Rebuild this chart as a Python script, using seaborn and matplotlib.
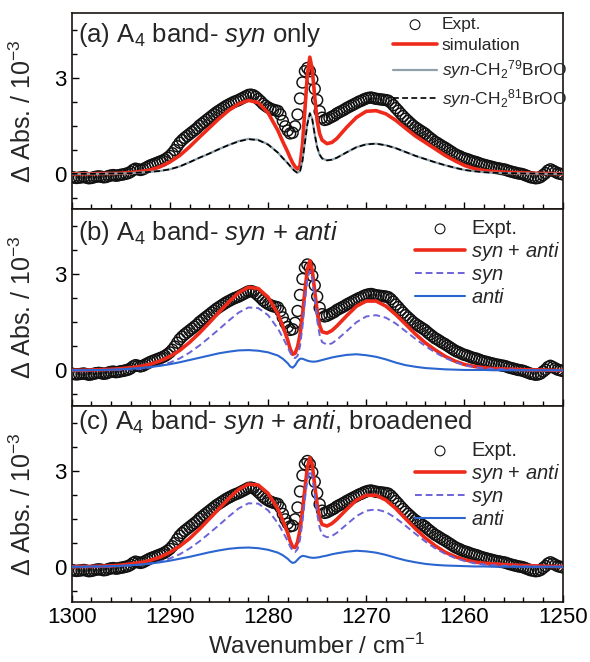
import numpy as np
import matplotlib
matplotlib.use('Agg')
import matplotlib.pyplot as plt
from matplotlib.ticker import MultipleLocator
import seaborn as sns

# Wavenumber grid of the simulated curves (cm-1), finer around the Q branch
wn = [1300, 1299, 1298, 1297, 1296, 1295, 1294, 1293, 1292, 1291, 1290, 1289,
      1288, 1287, 1286, 1285, 1284, 1283, 1282, 1281, 1280, 1279, 1278.5, 1278,
      1277.75, 1277.5, 1277.25, 1277, 1276.75, 1276.5, 1276.25, 1276, 1275.75,
      1275.5, 1275.25, 1275, 1274.75, 1274.5, 1274, 1273.5, 1273, 1272, 1271,
      1270, 1269, 1268, 1267, 1266, 1265, 1264, 1263, 1262, 1261, 1260, 1259,
      1258, 1257, 1256, 1255, 1254, 1253, 1252, 1251, 1250]

# Experimental spectrum, 0.25 cm-1 steps from 1300 down to 1250
expt = [-0.10, -0.12, -0.13, -0.12, -0.11, -0.10, -0.12, -0.14,
        -0.13, -0.11, -0.09, -0.08, -0.09, -0.11, -0.10, -0.07,
        -0.05, -0.04, -0.06, -0.05, -0.03, -0.02, 0.00, 0.02,
        0.06, 0.12, 0.16, 0.14, 0.12, 0.14, 0.18, 0.22,
        0.26, 0.29, 0.32, 0.35, 0.38, 0.41, 0.45, 0.50,
        0.56, 0.64, 0.74, 0.86, 0.97, 1.05, 1.12, 1.18,
        1.24, 1.30, 1.36, 1.42, 1.50, 1.56, 1.62, 1.68,
        1.74, 1.80, 1.86, 1.92, 1.97, 2.02, 2.07, 2.12,
        2.16, 2.20, 2.24, 2.27, 2.30, 2.34, 2.38, 2.42,
        2.46, 2.47, 2.45, 2.40, 2.33, 2.26, 2.18, 2.12,
        2.07, 2.03, 2.00, 1.98, 1.96, 1.85, 1.65, 1.48,
        1.35, 1.26, 1.28, 1.48, 1.85, 2.35, 2.85, 3.20,
        3.30, 3.20, 2.95, 2.65, 2.30, 1.95, 1.75, 1.68,
        1.70, 1.74, 1.78, 1.82, 1.88, 1.92, 1.96, 2.00,
        2.05, 2.09, 2.13, 2.17, 2.21, 2.25, 2.28, 2.32,
        2.35, 2.37, 2.38, 2.36, 2.34, 2.33, 2.32, 2.31,
        2.30, 2.28, 2.22, 2.14, 2.05, 1.97, 1.88, 1.80,
        1.72, 1.65, 1.58, 1.51, 1.45, 1.40, 1.35, 1.30,
        1.25, 1.18, 1.12, 1.06, 1.00, 0.96, 0.91, 0.86,
        0.82, 0.77, 0.72, 0.67, 0.62, 0.58, 0.55, 0.51,
        0.48, 0.46, 0.43, 0.40, 0.38, 0.36, 0.33, 0.30,
        0.28, 0.26, 0.24, 0.22, 0.20, 0.18, 0.17, 0.15,
        0.14, 0.12, 0.09, 0.07, 0.05, 0.03, 0.01, 0.00,
        -0.02, -0.05, -0.08, -0.11, -0.12, -0.14, -0.13, -0.10,
        -0.04, 0.02, 0.10, 0.14, 0.10, 0.06, 0.02, 0.00,
        -0.02]
wn_expt = np.linspace(1300, 1250, len(expt))

# (a) syn only
sim_a = [0.00, 0.00, 0.00, 0.01, 0.01, 0.02, 0.04, 0.07, 0.12, 0.22, 0.37, 0.57,
         0.84, 1.14, 1.43, 1.72, 1.98, 2.18, 2.29, 2.22, 1.90, 1.35, 1.00, 0.68,
         0.50, 0.34, 0.22, 0.15, 0.25, 0.90, 2.00, 3.10, 3.64,
         3.25, 2.40, 1.65, 1.25, 1.05, 0.94, 0.98, 1.10, 1.45, 1.76,
         1.95, 1.97, 1.87, 1.67, 1.42, 1.18, 0.98, 0.78, 0.58, 0.41, 0.26, 0.16,
         0.10, 0.07, 0.05, 0.04, 0.03, 0.02, 0.01, 0.01, 0.00]
syn79_a = [0.00, 0.00, 0.00, 0.00, 0.01, 0.01, 0.02, 0.04, 0.06, 0.09, 0.14, 0.23,
           0.36, 0.50, 0.63, 0.77, 0.90, 1.02, 1.09, 1.06, 0.92, 0.66, 0.49, 0.33,
           0.24, 0.15, 0.08, 0.03, 0.08, 0.42, 1.00, 1.58, 1.90,
           1.70, 1.22, 0.82, 0.59, 0.48, 0.42, 0.44, 0.50, 0.67, 0.83,
           0.92, 0.94, 0.89, 0.80, 0.68, 0.56, 0.46, 0.36, 0.27, 0.19, 0.12, 0.08,
           0.05, 0.03, 0.02, 0.02, 0.01, 0.01, 0.00, 0.00, 0.00]
syn81_a = [0.00, 0.00, 0.00, 0.00, 0.01, 0.01, 0.02, 0.04, 0.06, 0.09, 0.14, 0.23,
           0.36, 0.50, 0.63, 0.77, 0.90, 1.01, 1.08, 1.05, 0.91, 0.66, 0.49, 0.33,
           0.24, 0.15, 0.08, 0.03, 0.07, 0.40, 0.97, 1.55, 1.88,
           1.70, 1.23, 0.83, 0.60, 0.48, 0.42, 0.44, 0.50, 0.67, 0.83,
           0.92, 0.94, 0.89, 0.80, 0.68, 0.56, 0.46, 0.36, 0.27, 0.19, 0.12, 0.08,
           0.05, 0.03, 0.02, 0.02, 0.01, 0.01, 0.00, 0.00, 0.00]

# (b) syn + anti
sum_b = [0.00, 0.00, 0.01, 0.02, 0.03, 0.05, 0.08, 0.12, 0.19, 0.29, 0.43, 0.62,
         0.87, 1.16, 1.48, 1.81, 2.13, 2.42, 2.59, 2.55, 2.28, 1.76, 1.38, 0.94,
         0.67, 0.50, 0.53, 0.73, 1.11, 1.71, 2.48, 3.15, 3.42,
         3.12, 2.47, 1.83, 1.40, 1.20, 1.16, 1.24, 1.38, 1.70, 2.00,
         2.16, 2.16, 2.00, 1.74, 1.44, 1.13, 0.86, 0.64, 0.44, 0.29, 0.18, 0.12,
         0.08, 0.05, 0.04, 0.03, 0.02, 0.01, 0.01, 0.00, 0.00]
syn_b = [0.00, 0.00, 0.00, 0.01, 0.01, 0.02, 0.03, 0.05, 0.09, 0.15, 0.24, 0.37,
         0.55, 0.77, 1.02, 1.28, 1.55, 1.80, 1.96, 1.94, 1.72, 1.30, 1.02, 0.72,
         0.55, 0.42, 0.38, 0.45, 0.75, 1.35, 2.15, 2.85, 3.10,
         2.85, 2.20, 1.55, 1.10, 0.88, 0.80, 0.84, 0.95, 1.22, 1.50,
         1.68, 1.72, 1.64, 1.46, 1.22, 0.98, 0.76, 0.56, 0.39, 0.26, 0.16, 0.10,
         0.06, 0.04, 0.03, 0.02, 0.01, 0.01, 0.00, 0.00, 0.00]
anti_b = [0.00, 0.00, 0.01, 0.01, 0.02, 0.03, 0.05, 0.07, 0.10, 0.14, 0.19, 0.25,
          0.32, 0.39, 0.46, 0.53, 0.58, 0.62, 0.63, 0.61, 0.56, 0.46, 0.36, 0.22,
          0.12, 0.08, 0.15, 0.28, 0.36, 0.36, 0.33, 0.30, 0.28,
          0.27, 0.27, 0.28, 0.30, 0.32, 0.36, 0.40, 0.43, 0.48, 0.50,
          0.47, 0.42, 0.34, 0.24, 0.16, 0.11, 0.07, 0.05, 0.03, 0.02, 0.01, 0.01,
          0.01, 0.00, 0.00, 0.00, 0.00, 0.00, 0.00, 0.00, 0.00]

# (c) syn + anti, broadened
sum_c = [0.00, 0.01, 0.01, 0.02, 0.03, 0.05, 0.09, 0.13, 0.20, 0.30, 0.45, 0.64,
         0.88, 1.17, 1.49, 1.81, 2.13, 2.41, 2.58, 2.55, 2.29, 1.80, 1.45, 1.05,
         0.80, 0.62, 0.60, 0.77, 1.15, 1.74, 2.43, 3.10, 3.40,
         3.18, 2.53, 1.94, 1.52, 1.32, 1.27, 1.35, 1.48, 1.79, 2.08,
         2.23, 2.23, 2.08, 1.82, 1.50, 1.19, 0.90, 0.66, 0.46, 0.32, 0.22, 0.15,
         0.11, 0.09, 0.07, 0.05, 0.04, 0.03, 0.02, 0.01, 0.01]
syn_c = [0.00, 0.00, 0.00, 0.01, 0.01, 0.02, 0.04, 0.06, 0.10, 0.16, 0.26, 0.39,
         0.57, 0.79, 1.04, 1.30, 1.57, 1.82, 1.98, 1.97, 1.76, 1.36, 1.09, 0.80,
         0.63, 0.50, 0.46, 0.55, 0.85, 1.40, 2.10, 2.72, 3.00,
         2.82, 2.25, 1.65, 1.22, 1.00, 0.92, 0.96, 1.06, 1.32, 1.58,
         1.75, 1.79, 1.71, 1.52, 1.28, 1.03, 0.79, 0.58, 0.41, 0.28, 0.18, 0.11,
         0.07, 0.05, 0.03, 0.02, 0.01, 0.01, 0.00, 0.00, 0.00]
anti_c = [0.00, 0.00, 0.01, 0.01, 0.02, 0.03, 0.05, 0.07, 0.10, 0.14, 0.19, 0.25,
          0.31, 0.38, 0.45, 0.51, 0.56, 0.59, 0.60, 0.58, 0.53, 0.44, 0.36, 0.25,
          0.17, 0.12, 0.14, 0.22, 0.30, 0.34, 0.33, 0.31, 0.29,
          0.28, 0.28, 0.29, 0.30, 0.32, 0.35, 0.39, 0.42, 0.47, 0.50,
          0.48, 0.44, 0.37, 0.28, 0.20, 0.14, 0.09, 0.06, 0.04, 0.03, 0.02, 0.01,
          0.01, 0.00, 0.00, 0.00, 0.00, 0.00, 0.00, 0.00, 0.00]

titles = [r'(a) A$_4$ band- $\it{syn}$ only',
          r'(b) A$_4$ band- $\it{syn}$ + $\it{anti}$',
          r'(c) A$_4$ band- $\it{syn}$ + $\it{anti}$, broadened']
title_y = [0.85, 0.845, 0.88]

# Style
sns.set_theme(style='ticks')
plt.rcParams['font.family'] = ['Liberation Sans', 'DejaVu Sans']
plt.rcParams['mathtext.fontset'] = 'custom'
plt.rcParams['mathtext.rm'] = 'Liberation Sans'
plt.rcParams['mathtext.it'] = 'Liberation Sans:italic'
plt.rcParams['mathtext.bf'] = 'Liberation Sans:bold'

RED = '#ee2a1b'
GREY = '#8fa1ab'
PURPLE = '#6b63d6'
BLUE = '#2b66d0'

fig, axes = plt.subplots(3, 1, figsize=(5.9, 6.62), dpi=100, sharex=True)
fig.subplots_adjust(left=0.1215, right=0.9537, top=0.981, bottom=0.0906, hspace=0)

def draw_expt(ax):
    sns.scatterplot(x=wn_expt, y=expt, ax=ax, marker='o', s=62,
                    facecolor='none', edgecolor='#111111', linewidth=1.05,
                    label='Expt.', legend=False, zorder=2)

def draw_line(ax, y, color, lw, ls, label):
    sns.lineplot(x=wn, y=y, ax=ax, color=color, linewidth=lw, linestyle=ls,
                 label=label, sort=False, estimator=None, legend=False, zorder=3)

# Panel a
ax = axes[0]
draw_expt(ax)
draw_line(ax, sim_a, RED, 2.6, '-', 'simulation')
draw_line(ax, syn79_a, GREY, 1.6, '-', r'$\it{syn}$-CH$_2$$^{79}$BrOO')
draw_line(ax, syn81_a, 'black', 1.2, (0, (3.5, 2)), r'$\it{syn}$-CH$_2$$^{81}$BrOO')

# Panel b
ax = axes[1]
draw_expt(ax)
draw_line(ax, sum_b, RED, 2.6, '-', r'$\it{syn}$ + $\it{anti}$')
draw_line(ax, syn_b, PURPLE, 1.4, (0, (3.5, 2)), r'$\it{syn}$')
draw_line(ax, anti_b, BLUE, 1.5, '-', r'$\it{anti}$')

# Panel c
ax = axes[2]
draw_expt(ax)
draw_line(ax, sum_c, RED, 2.6, '-', r'$\it{syn}$ + $\it{anti}$')
draw_line(ax, syn_c, PURPLE, 1.4, (0, (3.5, 2)), r'$\it{syn}$')
draw_line(ax, anti_c, BLUE, 1.5, '-', r'$\it{anti}$')

legend_anchor = [(1.03, 1.03), (1.02, 1.01), (1.02, 0.88)]
legend_size = [12.5, 14.5, 14.5]
legend_space = [0.32, 0.1, 0.1]

for i, ax in enumerate(axes):
    ax.set_xlim(1300, 1250)
    ax.set_ylim(-1.1, 5.03)
    ax.xaxis.set_major_locator(MultipleLocator(10))
    ax.xaxis.set_minor_locator(MultipleLocator(2))
    ax.yaxis.set_major_locator(MultipleLocator(3))
    ax.yaxis.set_minor_locator(MultipleLocator(0.75))
    ax.tick_params(which='both', direction='in', top=False, right=False,
                   colors='black', labelsize=16)
    ax.tick_params(which='major', length=5, width=1.0)
    ax.tick_params(which='minor', length=3.5, width=1.0)
    for sp in ax.spines.values():
        sp.set_linewidth(1.2)
        sp.set_color('#1a1410')
    ax.set_ylabel(r'$\Delta$ Abs. / 10$^{-3}$', fontsize=18)
    ax.yaxis.set_label_coords(-0.072, 0.5)
    ax.text(0.012, title_y[i], titles[i], transform=ax.transAxes,
            fontsize=18.5, va='baseline', ha='left')
    handles, labels = ax.get_legend_handles_labels()
    leg = ax.legend(handles, labels, loc='upper right',
                    bbox_to_anchor=legend_anchor[i], frameon=False,
                    fontsize=legend_size[i], scatterpoints=1,
                    handlelength=2.5, handletextpad=0.3,
                    labelspacing=legend_space[i], borderaxespad=0.2)
    leg.legend_handles[0].set_sizes([50])
    leg.legend_handles[0].set_linewidth(0.8)

axes[2].set_xlabel(r'Wavenumber / cm$^{-1}$', fontsize=17.5, labelpad=4)
for ax in axes[:2]:
    ax.tick_params(labelbottom=False)

fig.savefig('out.png', dpi=100, facecolor='white')
